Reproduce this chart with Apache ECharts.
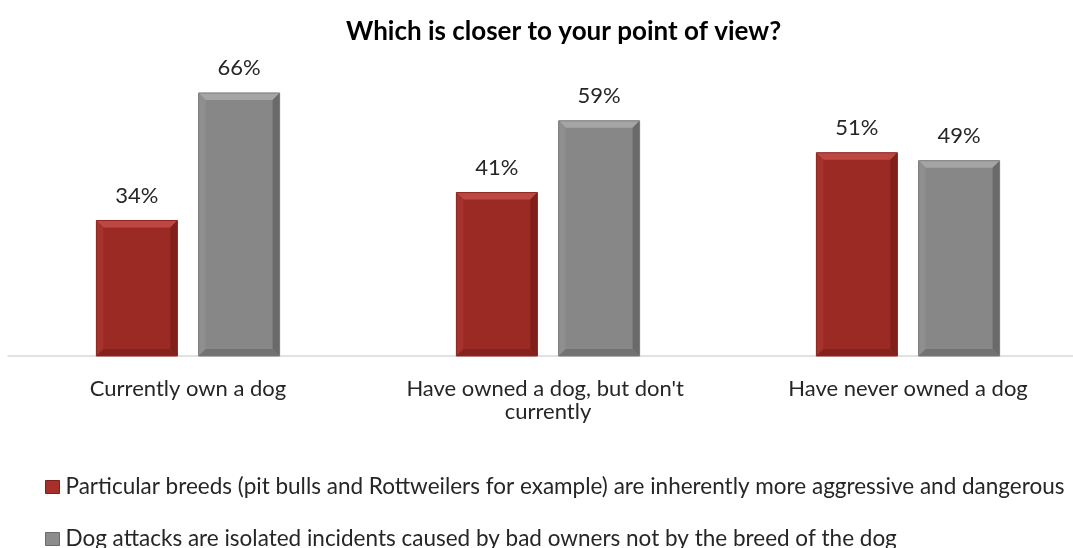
<!DOCTYPE html>
<html>
<head>
<meta charset="utf-8">
<script src="https://cdn.jsdelivr.net/npm/echarts@6/dist/echarts.min.js"></script>
<style>
  html, body { margin: 0; padding: 0; background: #fff; }
  #chart { width: 1073px; height: 548px; }
</style>
</head>
<body>
<div id="chart"></div>
<script>
// Survey groups and shares (%) for each view
const categories = ['Currently own a dog', "Have owned a dog, but don't currently", 'Have never owned a dog'];
const breedValues = [34, 41, 51];
const ownerValues = [66, 59, 49];
const seriesNames = [
  'Particular breeds (pit bulls and Rottweilers for example) are inherently more aggressive and dangerous',
  'Dog attacks are isolated incidents caused by bad owners not by the breed of the dog'
];

const FONT = 'Lato, "Open Sans", sans-serif';
const TEXT_SIZE = 22;

// Bevelled bar: base rect plus four shaded edges, with its value label above
function bevelBar(offsetFrac, widthFrac, shades) {
  return function (params, api) {
    const cat = api.value(0);
    const val = api.value(1);
    const top = api.coord([cat, val]);
    const base = api.coord([cat, 0]);
    const band = api.size([1, 0])[0];
    const w = band * widthFrac;
    const cx = top[0] + band * offsetFrac;
    const x0 = cx - w / 2, x1 = cx + w / 2;
    const y0 = top[1], y1 = base[1];
    const b = Math.min(7, (y1 - y0) / 2);
    return {
      type: 'group',
      children: [
        { type: 'rect', shape: { x: x0, y: y0, width: w, height: y1 - y0 }, style: { fill: shades.base } },
        { type: 'polygon', shape: { points: [[x0, y0], [x1, y0], [x1 - b, y0 + b], [x0 + b, y0 + b]] }, style: { fill: shades.top } },
        { type: 'polygon', shape: { points: [[x0, y0], [x0 + b, y0 + b], [x0 + b, y1 - b], [x0, y1]] }, style: { fill: shades.left } },
        { type: 'polygon', shape: { points: [[x1, y0], [x1, y1], [x1 - b, y1 - b], [x1 - b, y0 + b]] }, style: { fill: shades.right } },
        { type: 'polygon', shape: { points: [[x0, y1], [x0 + b, y1 - b], [x1 - b, y1 - b], [x1, y1]] }, style: { fill: shades.bottom } },
        { type: 'rect', shape: { x: x0, y: y0, width: w, height: y1 - y0 }, style: { fill: 'none', stroke: shades.edge, lineWidth: 1 } },
        {
          type: 'text',
          style: {
            text: val + '%', x: cx, y: y0 - 14, align: 'center', verticalAlign: 'bottom',
            fill: '#262626', font: TEXT_SIZE + 'px ' + FONT
          }
        }
      ]
    };
  };
}

const redShades = { base: '#9C2A24', top: '#BD4842', left: '#A5322C', right: '#80201B', bottom: '#86221D', edge: '#8E2620' };
const grayShades = { base: '#878787', top: '#A5A5A5', left: '#8F8F8F', right: '#6A6A6A', bottom: '#727272', edge: '#7A7A7A' };

// One legend row per series, stacked below the axis labels
function legendRow(top, name, itemStyle) {
  return {
    orient: 'horizontal', left: 45, top: top, padding: 0,
    itemWidth: 14, itemHeight: 13,
    icon: 'rect',
    textStyle: { fontSize: 22.5, lineHeight: 24, color: '#262626', fontFamily: FONT, padding: [0, 0, 0, 1] },
    data: [{ name: name, itemStyle: itemStyle }]
  };
}

const chart = echarts.init(document.getElementById('chart'));
chart.setOption({
  animation: false,
  textStyle: { fontFamily: FONT },
  title: {
    text: 'Which is closer to your point of view?',
    left: 341, top: 14,
    textStyle: { fontSize: 26, fontWeight: 'bold', color: '#000', fontFamily: FONT }
  },
  legend: [
    legendRow(475, seriesNames[0], { color: '#A8302A', borderColor: '#7E1F1A', borderWidth: 1 }),
    legendRow(527, seriesNames[1], { color: '#8C8C8C', borderColor: '#6A6A6A', borderWidth: 1 })
  ],
  grid: { left: 8, top: 77, width: 1080, height: 279, outerBoundsMode: 'none' },
  xAxis: {
    type: 'category',
    data: categories,
    axisLine: { lineStyle: { color: '#D9D9D9', width: 1.5 } },
    axisTick: { show: false },
    axisLabel: {
      fontSize: TEXT_SIZE, color: '#262626', fontFamily: FONT, margin: 21,
      width: 320, overflow: 'break', lineHeight: 23, interval: 0
    }
  },
  yAxis: { type: 'value', min: 0, max: 70, show: false, splitLine: { show: false } },
  series: [
    {
      name: seriesNames[0], type: 'custom', itemStyle: { color: '#A8302A' },
      renderItem: bevelBar(-0.142, 0.225, redShades),
      encode: { x: 0, y: 1 },
      data: breedValues.map((v, i) => [i, v])
    },
    {
      name: seriesNames[1], type: 'custom', itemStyle: { color: '#8C8C8C' },
      renderItem: bevelBar(0.142, 0.225, grayShades),
      encode: { x: 0, y: 1 },
      data: ownerValues.map((v, i) => [i, v])
    }
  ]
});
</script>
</body>
</html>
